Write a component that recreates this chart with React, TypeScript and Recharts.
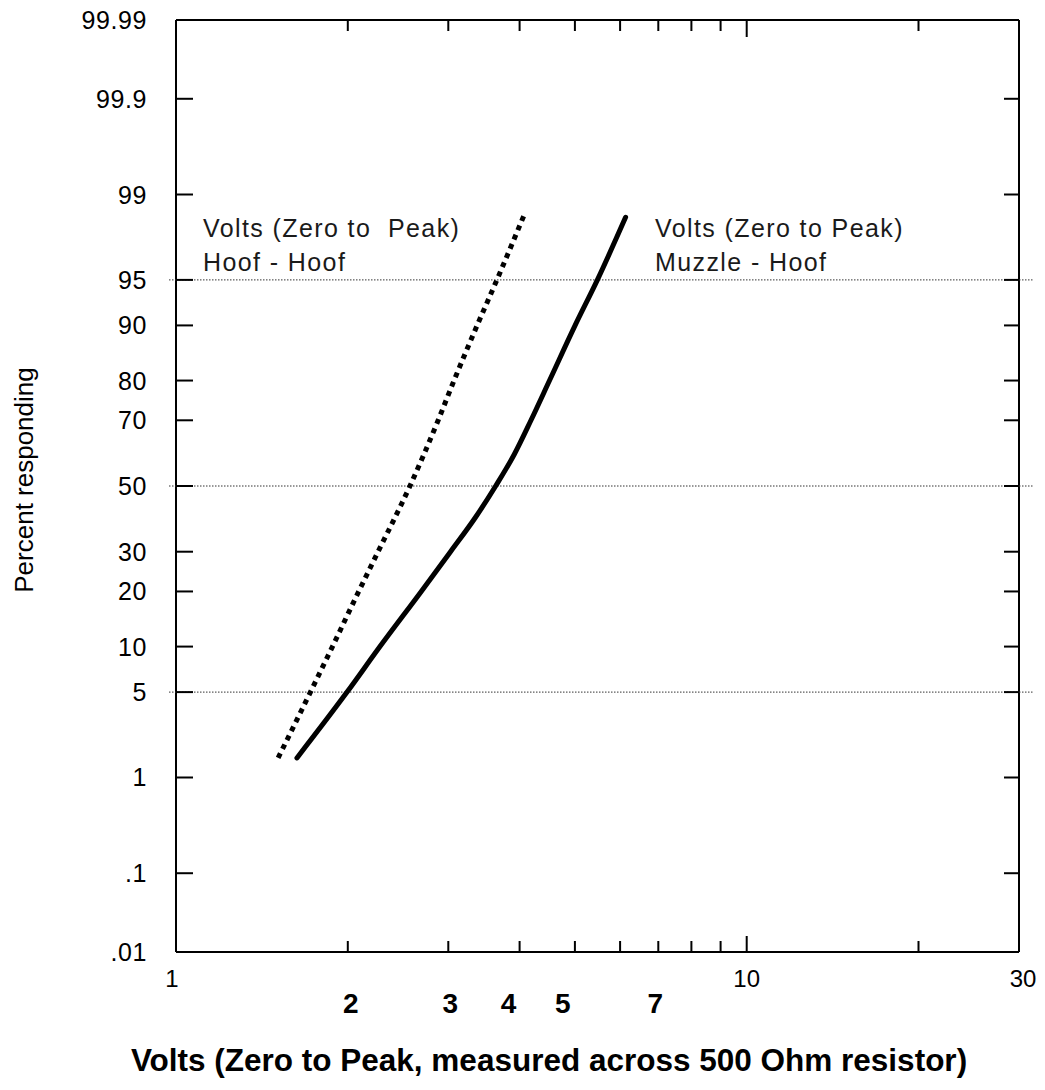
import React from 'react';
import { LineChart, Line, XAxis, YAxis, ReferenceLine } from 'recharts';

// ---- data ----
const hoofVolts = [1.51, 1.72, 1.88, 2.09, 2.26, 2.57, 2.88, 3.07, 3.37, 3.65, 4.08];
const hoofPercent = [1.5, 5, 10, 20, 30, 50, 70, 80, 90, 95, 98.5];
const muzzleVolts = [1.629, 1.994, 2.277, 2.69, 3.027, 3.344, 3.632, 3.916, 4.188, 4.513, 5.004, 5.475, 6.135];
const muzzlePercent = [1.5, 5, 10, 20, 30, 40, 50, 60, 70, 80, 90, 95, 98.4];

const yTickPercents = [0.01, 0.1, 1, 5, 10, 20, 30, 50, 70, 80, 90, 95, 99, 99.9, 99.99];
const yTickLabels = ['.01', '.1', '1', '5', '10', '20', '30', '50', '70', '80', '90', '95', '99', '99.9', '99.99'];
const gridPercents = [5, 50, 95];
const xTickMarks = [2, 3, 4, 5, 6, 7, 8, 9, 10, 20];
const xLabelValues = [1, 2, 3, 4, 5, 7, 10, 30];
const xLabelTexts = ['1', '2', '3', '4', '5', '7', '10', '30'];
const xDomain = [1, 30];

// inverse normal CDF (probability scale)
function probit(p: number): number {
  const a = [-3.969683028665376e1, 2.209460984245205e2, -2.759285104469687e2, 1.38357751867269e2, -3.066479806614716e1, 2.506628277459239];
  const b = [-5.447609879822406e1, 1.615858368580409e2, -1.556989798598866e2, 6.680131188771972e1, -1.328068155288572e1];
  const c = [-7.784894002430293e-3, -3.223964580411365e-1, -2.400758277161838, -2.549732539343734, 4.374664141464968, 2.938163982698783];
  const d = [7.784695709041462e-3, 3.224671290700398e-1, 2.445134137142996, 3.754408661907416];
  const plow = 0.02425;
  if (p < plow) {
    const q = Math.sqrt(-2 * Math.log(p));
    return (((((c[0] * q + c[1]) * q + c[2]) * q + c[3]) * q + c[4]) * q + c[5]) / ((((d[0] * q + d[1]) * q + d[2]) * q + d[3]) * q + 1);
  }
  if (p <= 1 - plow) {
    const q = p - 0.5;
    const r = q * q;
    return ((((((a[0] * r + a[1]) * r + a[2]) * r + a[3]) * r + a[4]) * r + a[5]) * q) / (((((b[0] * r + b[1]) * r + b[2]) * r + b[3]) * r + b[4]) * r + 1);
  }
  const q = Math.sqrt(-2 * Math.log(1 - p));
  return -(((((c[0] * q + c[1]) * q + c[2]) * q + c[3]) * q + c[4]) * q + c[5]) / ((((d[0] * q + d[1]) * q + d[2]) * q + d[3]) * q + 1);
}
const zOf = (pct: number) => probit(pct / 100);

const hoofData = hoofVolts.map((v, i) => ({ v, z: zOf(hoofPercent[i]) }));
const muzzleData = muzzleVolts.map((v, i) => ({ v, z: zOf(muzzlePercent[i]) }));
const yTicks = yTickPercents.map(zOf);
const yDomain = [zOf(0.01), zOf(99.99)];
const gridZ = gridPercents.map(zOf);
const xAllTicks = Array.from(new Set([...xLabelValues, ...xTickMarks])).sort((a, b) => a - b);

const FONT = '"Liberation Sans", Arial, Helvetica, sans-serif';
const near = (a: number, b: number) => Math.abs(a - b) < 1e-6;

// label nudges as in the original print
const xLabelDx: Record<number, number> = { 1: -4, 2: 3, 3: 2, 4: -11, 5: -12, 7: -3, 10: 0, 30: 4 };

const BottomTick = (props: any) => {
  const { x, y, payload } = props;
  const v = payload.value;
  const li = xLabelValues.indexOf(v);
  const isPlain = v === 1 || v === 10 || v === 30;
  return (
    <g>
      {xTickMarks.includes(v) && (
        <line x1={x} x2={x} y1={y} y2={y - (v === 10 ? 16 : 11)} stroke="#000" strokeWidth={2} />
      )}
      {li >= 0 && (
        <text
          x={x + (xLabelDx[v] || 0)}
          y={y + (isPlain ? 35 : 61)}
          textAnchor="middle"
          fontFamily={FONT}
          fontSize={isPlain ? 24 : 28}
          fontWeight={isPlain ? 400 : 700}
          fill="#000"
        >
          {xLabelTexts[li]}
        </text>
      )}
    </g>
  );
};

const TopTick = (props: any) => {
  const { x, y, payload } = props;
  const v = payload.value;
  if (!xTickMarks.includes(v)) return <g />;
  return <line x1={x} x2={x} y1={y} y2={y + (v === 10 ? 17 : 11)} stroke="#000" strokeWidth={2} />;
};

const LeftTick = (props: any) => {
  const { x, y, payload } = props;
  const idx = yTicks.findIndex((t) => near(t, payload.value));
  const isGrid = gridZ.some((g) => near(g, payload.value));
  return (
    <g>
      <line x1={x} x2={x + 17} y1={y} y2={y} stroke="#000" strokeWidth={2} />
      {isGrid && <line x1={x - 7} x2={x} y1={y} y2={y} stroke="#333" strokeWidth={1} strokeDasharray="1.5 1.5" />}
      <text
        x={x - 29}
        y={y + 9}
        textAnchor="end"
        fontFamily={FONT}
        fontSize={25}
        fill="#000"
        style={{ letterSpacing: '0.6px' }}
      >
        {idx >= 0 ? yTickLabels[idx] : ''}
      </text>
    </g>
  );
};

const RightTick = (props: any) => {
  const { x, y, payload } = props;
  const isGrid = gridZ.some((g) => near(g, payload.value));
  return (
    <g>
      <line x1={x - 15} x2={x} y1={y} y2={y} stroke="#000" strokeWidth={2} />
      {isGrid && <line x1={x} x2={x + 14} y1={y} y2={y} stroke="#333" strokeWidth={1} strokeDasharray="1.5 1.5" />}
    </g>
  );
};

const annotationStyle: React.CSSProperties = {
  position: 'absolute',
  fontFamily: FONT,
  fontSize: 25,
  lineHeight: '34px',
  letterSpacing: '1.4px',
  color: '#1a1a1a',
  whiteSpace: 'pre',
};

export default function App() {
  return (
    <div style={{ position: 'absolute', left: 0, top: 0, width: 1045, height: 1090, background: '#fff', fontFamily: FONT }}>
      <LineChart width={1045} height={1090} margin={{ top: 19, right: 25, bottom: 137, left: 175 }}>
        <XAxis
          xAxisId="b"
          dataKey="v"
          type="number"
          scale="log"
          domain={xDomain}
          allowDataOverflow
          ticks={xAllTicks}
          interval={0}
          height={1}
          tickSize={0}
          tickMargin={0}
          tickLine={false}
          axisLine={{ stroke: '#000', strokeWidth: 2 }}
          tick={<BottomTick />}
        />
        <XAxis
          xAxisId="t"
          orientation="top"
          dataKey="v"
          type="number"
          scale="log"
          domain={xDomain}
          allowDataOverflow
          ticks={xAllTicks}
          interval={0}
          height={1}
          tickSize={0}
          tickMargin={0}
          tickLine={false}
          axisLine={{ stroke: '#000', strokeWidth: 2 }}
          tick={<TopTick />}
        />
        <YAxis
          yAxisId="l"
          type="number"
          domain={yDomain}
          allowDataOverflow
          ticks={yTicks}
          interval={0}
          width={1}
          tickSize={0}
          tickMargin={0}
          tickLine={false}
          axisLine={{ stroke: '#000', strokeWidth: 2 }}
          tick={<LeftTick />}
        />
        <YAxis
          yAxisId="r"
          orientation="right"
          type="number"
          domain={yDomain}
          allowDataOverflow
          ticks={yTicks}
          interval={0}
          width={1}
          tickSize={0}
          tickMargin={0}
          tickLine={false}
          axisLine={{ stroke: '#000', strokeWidth: 2 }}
          tick={<RightTick />}
        />
        {gridZ.map((g) => (
          <ReferenceLine key={g} xAxisId="b" yAxisId="l" y={g} stroke="#333" strokeWidth={1} strokeDasharray="1.5 1.5" />
        ))}
        <Line
          xAxisId="b"
          yAxisId="l"
          data={hoofData}
          dataKey="z"
          type="monotone"
          stroke="#000"
          strokeWidth={5}
          strokeDasharray="5 5"
          dot={false}
          activeDot={false}
          isAnimationActive={false}
        />
        <Line
          xAxisId="b"
          yAxisId="l"
          data={muzzleData}
          dataKey="z"
          type="monotone"
          stroke="#000"
          strokeWidth={5}
          strokeLinecap="round"
          dot={false}
          activeDot={false}
          isAnimationActive={false}
        />
      </LineChart>

      <div style={{ ...annotationStyle, left: 203, top: 211 }}>{'Volts (Zero to  Peak)\nHoof - Hoof'}</div>
      <div style={{ ...annotationStyle, left: 655, top: 211 }}>{'Volts (Zero to Peak)\nMuzzle - Hoof'}</div>

      <div
        style={{
          position: 'absolute',
          left: 49,
          width: 1000,
          top: 1041,
          lineHeight: '38px',
          textAlign: 'center',
          fontFamily: FONT,
          fontSize: 31.5,
          fontWeight: 700,
          color: '#000',
          whiteSpace: 'nowrap',
        }}
      >
        Volts (Zero to Peak, measured across 500 Ohm resistor)
      </div>
      <div
        style={{
          position: 'absolute',
          left: 24,
          top: 480,
          transform: 'translate(-50%, -50%) rotate(-90deg)',
          fontFamily: FONT,
          fontSize: 26,
          color: '#000',
          whiteSpace: 'nowrap',
        }}
      >
        Percent responding
      </div>
    </div>
  );
}
